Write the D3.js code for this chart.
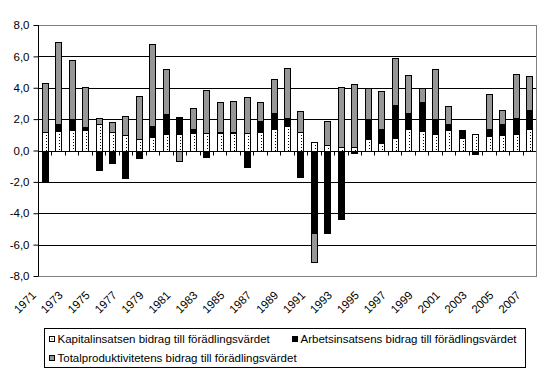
<!DOCTYPE html>
<html>
<head>
<meta charset="utf-8">
<script src="https://cdn.jsdelivr.net/npm/d3@7"></script>
<style>
  body { margin: 0; background: #fff; }
  svg { display: block; font-family: "Liberation Sans", Arial, sans-serif; }
</style>
</head>
<body>
<svg id="chart"></svg>
<script>
// categories and series values
const years = [1971,1972,1973,1974,1975,1976,1977,1978,1979,1980,1981,1982,1983,1984,1985,1986,1987,1988,1989,
               1990,1991,1992,1993,1994,1995,1996,1997,1998,1999,2000,2001,2002,2003,2004,2005,2006,2007];
const kapital = [1.2,1.23,1.3,1.3,1.66,1.2,1.0,0.74,0.87,1.06,1.06,
                 1.1,1.13,1.13,1.15,1.13,1.19,1.36,1.55,1.19,0.55,0.36,0.25,0.25,
                 0.72,0.45,0.79,1.4,1.27,1.08,1.3,0.79,1.06,0.91,0.98,1.08,1.36];
const arbete = [-2.0,0.43,0.68,0.2,-1.25,-0.8,-1.76,-0.49,0.66,1.28,1.1,
                0.24,-0.42,0.05,0.05,-1.06,0.66,1.06,0.55,-1.7,-5.27,-5.27,-4.38,-0.15,
                1.26,0.95,2.08,0.96,1.79,0.9,0.36,0.44,-0.23,0.49,0.74,1.02,1.25];
const tfp = [3.1,5.27,3.8,2.57,0.44,0.64,1.2,2.74,5.27,2.86,-0.66,
             1.34,2.7,1.9,1.97,2.29,1.25,2.15,3.17,1.34,-1.83,1.53,3.8,4.0,
             2.0,2.4,3.04,2.46,0.91,3.22,1.19,0.09,0,2.21,0.87,2.79,2.15];
const yTicks = [-8,-6,-4,-2,0,2,4,6,8];
const seriesNames = ['Kapitalinsatsen bidrag till förädlingsvärdet',
                     'Arbetsinsatsens bidrag till förädlingsvärdet',
                     'Totalproduktivitetens bidrag till förädlingsvärdet'];

const width = 558, height = 377;
const margin = {top: 25, right: 22, bottom: 101, left: 38};
const colors = ['#ffffff', '#000000', '#969696'];
const keys = ['kap', 'arb', 'tfp'];
const fontSize = '11.5px';

const data = years.map((y, i) => ({year: y, kap: kapital[i], arb: arbete[i], tfp: tfp[i]}));

const svg = d3.select('#chart').attr('width', width).attr('height', height);

const x = d3.scaleBand()
    .domain(years)
    .range([margin.left, width - margin.right])
    .paddingInner(0.55)
    .paddingOuter(0.275);

const y = d3.scaleLinear()
    .domain([-8, 8])
    .range([height - margin.bottom, margin.top]);

const stack = d3.stack().keys(keys).offset(d3.stackOffsetDiverging);
const series = stack(data);

// gridlines
svg.append('g')
    .selectAll('line')
    .data(yTicks.filter(d => d !== 8 && d !== -8))
    .join('line')
    .attr('x1', margin.left).attr('x2', width - margin.right)
    .attr('y1', d => Math.round(y(d)) + 0.5).attr('y2', d => Math.round(y(d)) + 0.5)
    .attr('stroke', '#000');

// plot border
svg.append('rect')
    .attr('x', margin.left + 0.5).attr('y', Math.round(y(8)) + 0.5)
    .attr('width', width - margin.right - margin.left)
    .attr('height', Math.round(y(-8)) - Math.round(y(8)))
    .attr('fill', 'none').attr('stroke', '#808080');

// bars
const layer = svg.append('g')
    .selectAll('g')
    .data(series)
    .join('g')
    .attr('fill', (d, i) => colors[i]);

layer.selectAll('rect')
    .data(d => d.filter(s => s[1] !== s[0]))
    .join('rect')
    .attr('x', d => Math.round(x(d.data.year)) + 0.5)
    .attr('y', d => Math.round(y(Math.max(d[0], d[1]))) + 0.5)
    .attr('width', Math.round(x.bandwidth()))
    .attr('height', d => Math.max(1, Math.round(y(Math.min(d[0], d[1]))) - Math.round(y(Math.max(d[0], d[1])))))
    .attr('stroke', '#000')
    .attr('stroke-width', 1);

// dotted fill of the capital series
svg.append('g')
    .selectAll('line')
    .data(series[0].filter(s => s[1] > s[0] + 0.1))
    .join('line')
    .attr('x1', d => Math.round(x(d.data.year)) + Math.round(x.bandwidth()) - 1.5)
    .attr('x2', d => Math.round(x(d.data.year)) + Math.round(x.bandwidth()) - 1.5)
    .attr('y1', d => Math.round(y(d[1])) + 3)
    .attr('y2', d => Math.round(y(d[0])))
    .attr('stroke', '#000')
    .attr('stroke-dasharray', '1,2');

// zero line with category ticks
const zeroY = Math.round(y(0)) + 0.5;
svg.append('line')
    .attr('x1', margin.left).attr('x2', width - margin.right)
    .attr('y1', zeroY).attr('y2', zeroY)
    .attr('stroke', '#000');
svg.append('g')
    .selectAll('line')
    .data(years.slice(1))
    .join('line')
    .attr('x1', d => Math.round(x(d) - x.step() * x.paddingInner() / 2) + 0.5)
    .attr('x2', d => Math.round(x(d) - x.step() * x.paddingInner() / 2) + 0.5)
    .attr('y1', zeroY).attr('y2', zeroY + 4)
    .attr('stroke', '#000');

// y axis
const yAxis = svg.append('g')
    .attr('transform', `translate(${margin.left + 0.5},0)`)
    .call(d3.axisLeft(y).tickValues(yTicks).tickSize(5).tickPadding(4)
        .tickFormat(d => d3.format('.1f')(d).replace('.', ',').replace('−', '-')));
yAxis.select('.domain').attr('stroke', '#000').attr('d', `M0,${Math.round(y(8))}V${Math.round(y(-8))}`);
yAxis.selectAll('.tick line').attr('stroke', '#000');
yAxis.selectAll('.tick text').attr('fill', '#000').style('font-size', fontSize)
    .style('font-family', '"Liberation Sans", Arial, sans-serif');

// year labels (every second year), rotated
svg.append('g')
    .selectAll('text')
    .data(years.filter((d, i) => i % 2 === 0))
    .join('text')
    .attr('transform', d => `translate(${x(d) + x.bandwidth() / 2 - 8},${height - margin.bottom + 20}) rotate(-45)`)
    .attr('text-anchor', 'end')
    .style('font-size', fontSize)
    .text(d => d);

// legend
const legend = svg.append('g');
legend.append('rect')
    .attr('x', 44.5).attr('y', 328.5).attr('width', 481).attr('height', 39)
    .attr('fill', '#fff').attr('stroke', '#000');

const legendPos = [[49, 343], [292, 343], [49, 362]];
const items = legend.selectAll('g.item')
    .data(seriesNames)
    .join('g')
    .attr('class', 'item')
    .attr('transform', (d, i) => `translate(${legendPos[i][0]},${legendPos[i][1]})`);
items.append('rect')
    .attr('x', 0.5).attr('y', -6.5).attr('width', 5).attr('height', 5)
    .attr('fill', (d, i) => colors[i]).attr('stroke', '#000');
items.filter((d, i) => i === 0).append('rect')
    .attr('x', 2.5).attr('y', -4.5).attr('width', 1).attr('height', 1).attr('fill', '#000');
items.append('text')
    .attr('x', 8.5).attr('y', 0)
    .style('font-size', fontSize)
    .text(d => d);
</script>
</body>
</html>
